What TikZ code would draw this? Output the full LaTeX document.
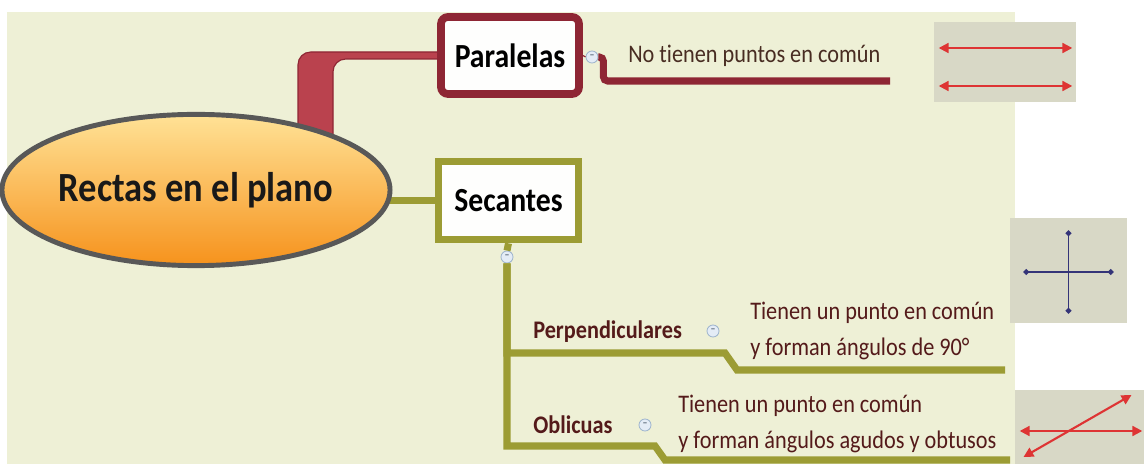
\documentclass[tikz,border=0pt]{standalone}
\usepackage{fontspec}
\setmainfont{Carlito}[Ligatures=NoCommon, FakeStretch=0.88]
\definecolor{bgbeige}{RGB}{238,240,214}
\definecolor{parared}{RGB}{142,38,52}
\definecolor{branchred}{RGB}{186,66,78}
\definecolor{secolive}{RGB}{156,156,52}
\definecolor{ringgray}{RGB}{88,88,88}
\definecolor{orangetop}{RGB}{255,226,150}
\definecolor{orangebot}{RGB}{246,146,28}
\definecolor{imggray}{RGB}{216,216,198}
\definecolor{linered}{RGB}{222,52,52}
\definecolor{linenavy}{RGB}{52,52,120}
\definecolor{txtbrown}{RGB}{72,44,34}
\definecolor{txtmaroon}{RGB}{84,26,26}
\definecolor{knobfill}{RGB}{228,236,246}
\definecolor{knobdraw}{RGB}{160,182,206}
\usetikzlibrary{shapes.geometric, arrows.meta, calc, backgrounds}

\tikzset{
  topicbox/.style={draw, line width=5.5pt, fill=white!94!bgbeige, inner sep=0pt, font=\fontsize{24}{24}\selectfont\bfseries},
  knob/.style={circle, draw=knobdraw, fill=knobfill, line width=0.6pt, minimum size=0.3cm, inner sep=0pt, font=\fontsize{8}{8}\selectfont\bfseries, text=knobdraw!60!black},
  subtopic/.style={font=\fontsize{18}{18}\selectfont\bfseries, text=txtmaroon, inner sep=0pt},
  note/.style={font=\fontsize{18}{25}\selectfont, text=txtmaroon, align=left, inner sep=0pt},
  redline/.style={linered, line width=1.5pt, arrows={Triangle[length=7pt,width=7pt]-Triangle[length=7pt,width=7pt]}},
  navyline/.style={linenavy, line width=1.2pt, arrows={Circle[length=4pt]-Circle[length=4pt]}},
}

\begin{document}
\begin{tikzpicture}[x=0.025cm, y=-0.025cm]
  \useasboundingbox (0,0) rectangle (1144,464);

  % Central topic
  \node[ellipse, draw=ringgray, line width=3.5pt, top color=orangetop, bottom color=orangebot, minimum width=9.3cm, minimum height=3.78cm, inner sep=0pt, font=\fontsize{29.5}{29.5}\selectfont\bfseries, text=black!90] (R) at (196,190) {Rectas en el plano};

  % Main topics
  \node[topicbox, draw=parared, rounded corners=5pt, minimum width=3.45cm, minimum height=1.925cm] (P) at (510,55.5) {Paralelas};
  \node[topicbox, draw=secolive, minimum width=3.5cm, minimum height=1.95cm] (S) at (508.5,200.5) {Secantes};

  % Branches behind the nodes
  \begin{scope}[on background layer]
    \fill[white] (0,0) rectangle (1144,464);
    \fill[bgbeige] (7,12) rectangle (1015,464);
    \filldraw[draw=parared, fill=branchred, line width=0.8pt, rounded corners=9pt] ($(R.center)+(102,0)$) |- ($(P.center)+(0,-3.5)$) -- ($(P.center)+(0,3.5)$) -| ($(R.center)+(137,0)$) -- cycle;
    \draw[secolive, line width=5pt] (R.center |- S.west) -- (S.center);
  \end{scope}

  % Collapse knobs
  \node[knob] (cP) at (592,57) {–};
  \node[knob] (cS) at (507,257) {–};
  \node[knob] (cPe) at (713,331) {–};
  \node[knob] (cOb) at (645,425) {–};

  % Texts
  \node[note, text=txtbrown, anchor=base west] (tP) at (628,63) {No tienen puntos en común};
  \node[subtopic, anchor=base west] (Pe) at (533,339) {Perpendiculares};
  \node[note, anchor=west] (tPe) at (750,331) {Tienen un punto en común\\y forman ángulos de 90°};
  \node[subtopic, anchor=west] (Ob) at (533,425) {Oblicuas};
  \node[note, anchor=west] (tOb) at (678,424) {Tienen un punto en común\\y forman ángulos agudos y obtusos};

  % Connectors
  \coordinate (pEnd) at (890,81);
  \draw[parared, line width=0.8pt] (P.east) -- (cP.west);
  \draw[parared, line width=5pt, rounded corners=3pt] (cP.east) -- ++(5,0) |- (pEnd);
  \draw[secolive, line width=5pt] (S.south) -- (cS.north);
  \coordinate (kPe) at (725,353);
  \coordinate (ePe) at (1005,370);
  \draw[secolive, line width=5pt] (cS.south) |- (kPe) -- ++(12,17) -- (ePe);
  \coordinate (kOb) at (655,446);
  \coordinate (eOb) at (1010,460);
  \draw[secolive, line width=5pt] (cS.south) |- (kOb) -- ++(10,14) -- (eOb);

  % Pictures
  \node[fill=imggray, minimum width=3.55cm, minimum height=2cm, inner sep=0pt] (imgP) at (1005,62) {};
  \draw[redline] ($(imgP.west)+(5,-14)$) -- ($(imgP.east)+(-4,-14)$);
  \draw[redline] ($(imgP.west)+(5,24)$) -- ($(imgP.east)+(-4,24)$);

  \node[fill=imggray, minimum width=2.925cm, minimum height=2.625cm, inner sep=0pt] (imgPe) at (1068.5,270.5) {};
  \draw[navyline] ($(imgPe.center)+(0,-40)$) -- ($(imgPe.center)+(0,43)$);
  \draw[navyline] ($(imgPe.center)+(-45,1.5)$) -- ($(imgPe.center)+(45,1.5)$);

  \node[fill=imggray, minimum width=3.225cm, minimum height=1.85cm, inner sep=0pt] (imgOb) at (1079.5,427) {};
  \draw[redline] ($(imgOb.west)+(5,4)$) -- ($(imgOb.east)+(-2,4)$);
  \draw[redline] ($(imgOb.center)+(-56,30)$) -- ($(imgOb.center)+(52,-32)$);
\end{tikzpicture}
\end{document}
